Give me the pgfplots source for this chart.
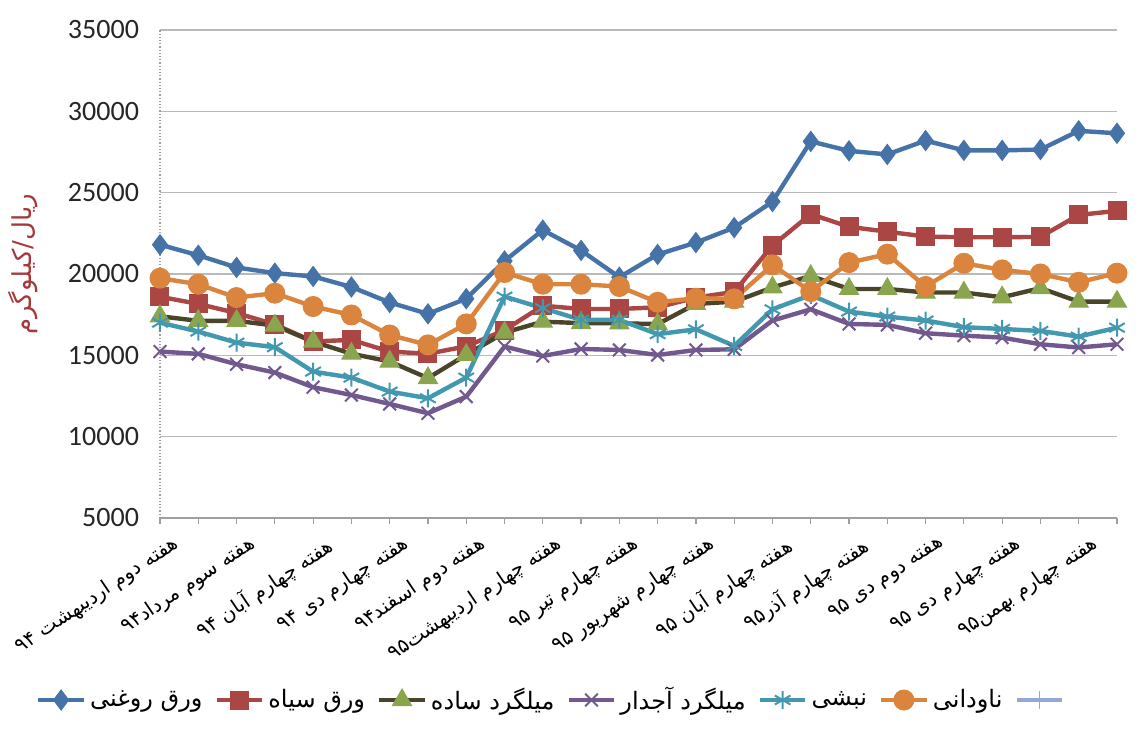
\documentclass[border=0pt]{standalone}
\usepackage{fontspec}
\usepackage{pgfplots}
\pgfplotsset{compat=1.18}
\setmainfont{Carlito}
\newfontfamily\arabicfont[Script=Arabic]{DejaVu Sans}
\TeXXeTstate=1
\newcommand{\ar}[1]{{\arabicfont\beginR #1\endR}}
\definecolor{cblue}{HTML}{4572A7}
\definecolor{cred}{HTML}{AA4643}
\definecolor{colive}{HTML}{4A452A}
\definecolor{cgreen}{HTML}{89A54E}
\definecolor{cpurple}{HTML}{71588F}
\definecolor{ccyan}{HTML}{4198AF}
\definecolor{corange}{HTML}{DB843D}
\definecolor{clight}{HTML}{93A9CF}
\definecolor{clabel}{HTML}{A5383B}

\pgfplotstableread{
x oil black plain ribbed angle channel
0 21800 18600 17400 15230 17010 19740
1 21150 18160 17120 15090 16460 19370
2 20400 17600 17120 14450 15780 18550
3 20050 16900 16830 13940 15500 18820
4 19850 15850 15840 13040 14000 18000
5 19200 15950 15100 12560 13630 17480
6 18250 15230 14620 12010 12770 16250
7 17550 15100 13600 11440 12360 15640
8 18480 15550 15030 12460 13630 16930
9 20800 16550 16400 15540 18610 20090
10 22700 18050 17070 14960 17900 19370
11 21450 17850 16980 15390 17180 19370
12 19800 17850 16970 15330 17180 19230
13 21200 17950 16920 15020 16300 18260
14 21930 18550 18160 15330 16600 18510
15 22850 18900 18300 15370 15580 18470
16 24450 21750 19170 17140 17830 20560
17 28150 23680 19880 17830 18710 18920
18 27570 22900 19080 16930 17690 20700
19 27350 22600 19080 16870 17380 21220
20 28200 22300 18860 16360 17140 19230
21 27600 22260 18860 16210 16730 20660
22 27600 22260 18570 16090 16620 20250
23 27650 22280 19130 15680 16500 20000
24 28800 23630 18300 15480 16150 19490
25 28650 23880 18300 15680 16700 20050
}\datatable

\begin{document}
\begin{tikzpicture}
\useasboundingbox (0,0) rectangle (573pt,366pt);
\begin{axis}[
  at={(80pt,107pt)}, anchor=south west,
  scale only axis, width=478.5pt, height=244pt,
  xmin=0, xmax=25, ymin=5000, ymax=35000,
  clip=false,
  axis x line*=bottom, axis y line*=left,
  x axis line style={draw=gray!75, line width=0.8pt, -},
  y axis line style={draw=gray!75, line width=0.6pt, densely dotted, -},
  xtick={0,...,25},
  ytick={5000,10000,...,35000},
  scaled y ticks=false,
  tick align=outside,
  major tick length=3pt,
  xtick style={draw=gray!75, line width=0.6pt},
  ytick style={draw=none},
  ymajorgrids,
  grid style={draw=gray!55, line width=0.8pt},
  /pgf/number format/assume math mode=true,
  /pgf/number format/1000 sep={},
  yticklabel style={font=\fontsize{14}{16}\selectfont, color=black!85, xshift=-4pt},
  xticklabels={\ar{هفته دوم اردیبهشت ۹۴},,\ar{هفته سوم مرداد۹۴},,\ar{هفته چهارم آبان ۹۴},,\ar{هفته چهارم دی ۹۴},,\ar{هفته دوم اسفند۹۴},,\ar{هفته چهارم اردیبهشت۹۵},,\ar{هفته چهارم تیر ۹۵},,\ar{هفته چهارم شهریور ۹۵},,\ar{هفته چهارم آبان ۹۵},,\ar{هفته چهارم آذر۹۵},,\ar{هفته دوم دی ۹۵},,\ar{هفته چهارم دی ۹۵},,\ar{هفته چهارم بهمن۹۵},},
  xticklabel style={font=\fontsize{10}{12}\selectfont, rotate=34, anchor=north east, inner sep=1pt, yshift=-6pt, xshift=3pt},
  ylabel={\ar{ریال/کیلوگرم}},
  ylabel style={at={(rel axis cs:-0.143,0.52)}, anchor=center, font=\fontsize{13}{15}\selectfont, color=clabel},
  every axis plot/.append style={line width=2.2pt},
  legend columns=7,
  legend style={at={(0.412,-0.373)}, anchor=center, draw=none, fill=none,
    font=\arabicfont\fontsize{12}{15}\selectfont,
    /tikz/every even column/.append style={column sep=4pt}},
  legend image code/.code={\draw[mark repeat=2,mark phase=2] plot coordinates {(0cm,0cm)(0.4cm,0cm)(0.8cm,0cm)};},
]
\addplot[color=cblue, mark=diamond*, mark size=5pt, mark options={fill=cblue, draw=cblue, line width=0.5pt}] table[x=x,y=oil]{\datatable};
\addlegendentry{\ar{ورق روغنی}}
\addplot[color=cred, mark=square*, mark size=4.5pt, mark options={fill=cred, draw=cred, line width=0.5pt}] table[x=x,y=black]{\datatable};
\addlegendentry{\ar{ورق سیاه}}
\addplot[color=colive, mark=triangle*, mark size=5.5pt, mark options={fill=cgreen, draw=cgreen, line width=0.5pt}] table[x=x,y=plain]{\datatable};
\addlegendentry{\ar{میلگرد ساده}}
\addplot[color=cpurple, mark=x, mark size=4.5pt, mark options={draw=cpurple, line width=1pt}] table[x=x,y=ribbed]{\datatable};
\addlegendentry{\ar{میلگرد آجدار}}
\addplot[color=ccyan, mark=asterisk, mark size=4.5pt, mark options={draw=ccyan, line width=1pt}] table[x=x,y=angle]{\datatable};
\addlegendentry{\ar{نبشی}}
\addplot[color=corange, mark=*, mark size=5pt, mark options={fill=corange, draw=corange, line width=0.5pt}] table[x=x,y=channel]{\datatable};
\addlegendentry{\ar{ناودانی}}
\addlegendimage{color=clight, line width=2.2pt, mark=+, mark size=4.5pt, mark options={line width=0.8pt}}
\addlegendentry{}
\end{axis}
\end{tikzpicture}
\end{document}
